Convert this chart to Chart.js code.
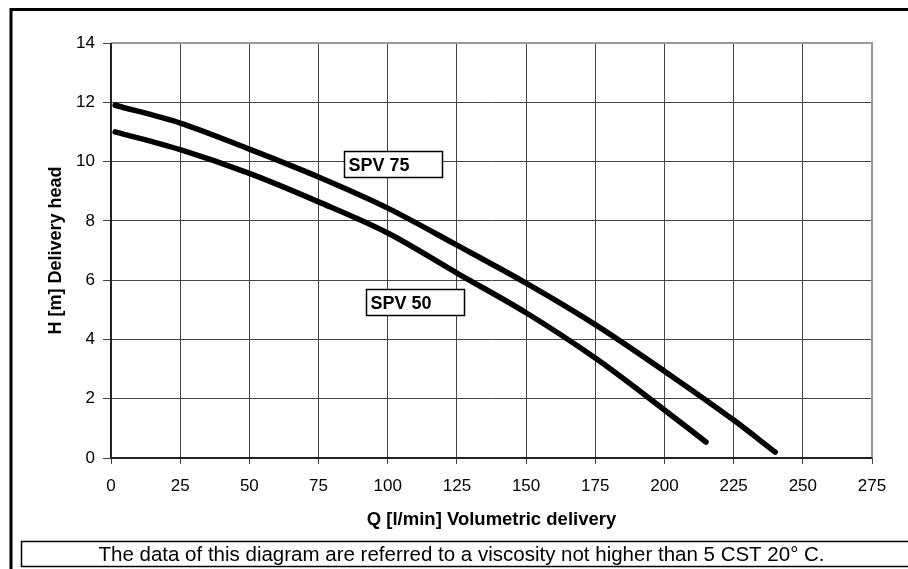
<!DOCTYPE html>
<html>
<head>
<meta charset="utf-8">
<script src="https://cdn.jsdelivr.net/npm/chart.js@4.4.1/dist/chart.umd.min.js"></script>
<style>
  html, body { margin: 0; padding: 0; background: #fff; }
  #wrap { position: relative; width: 908px; height: 569px; }
</style>
</head>
<body>
<div id="wrap"><canvas id="pumpChart" width="908" height="569"></canvas></div>
<script>
// flow rate Q [l/min] and head H [m]
const spv75Q = [1.5, 25, 50, 75, 100, 125, 150, 175, 200, 225, 240];
const spv75H = [11.9, 11.3, 10.42, 9.48, 8.43, 7.18, 5.9, 4.5, 2.93, 1.28, 0.2];
const spv50Q = [1.5, 25, 50, 75, 100, 125, 150, 175, 200, 215];
const spv50H = [11.0, 10.4, 9.6, 8.64, 7.59, 6.24, 4.9, 3.37, 1.62, 0.54];

const xTicks = [0, 25, 50, 75, 100, 125, 150, 175, 200, 225, 250, 275];
const yTicks = [0, 2, 4, 6, 8, 10, 12, 14];

// label boxes (anchored at data coords, top-left corner)
const curveLabels = [
  { text: "SPV 75", x: 84.2, y: 10.36 },
  { text: "SPV 50", x: 92.15, y: 5.70 }
];
const caption = "The data of this diagram are referred to a viscosity not higher than 5 CST 20° C.";

const FONT = "Arial, 'Liberation Sans', sans-serif";

function toPoints(xs, ys) {
  return xs.map((x, i) => ({ x: x, y: ys[i] }));
}

// frame, plot border, labels and caption
const extras = {
  id: "extras",
  afterDraw(chart) {
    const c = chart.ctx;
    const a = chart.chartArea;
    const xs = chart.scales.x, ys = chart.scales.y;
    c.save();
    // grey plot border (top, right)
    c.strokeStyle = "#999";
    c.lineWidth = 2;
    c.beginPath();
    c.moveTo(a.left, a.top);
    c.lineTo(a.right, a.top);
    c.lineTo(a.right, a.bottom);
    c.stroke();
    // axis lines
    c.strokeStyle = "#222";
    c.lineWidth = 2;
    c.beginPath();
    c.moveTo(a.left, a.top);
    c.lineTo(a.left, a.bottom);
    c.lineTo(a.right, a.bottom);
    c.stroke();

    // curve labels
    c.font = "bold 18px " + FONT;
    c.textBaseline = "alphabetic";
    c.textAlign = "left";
    curveLabels.forEach((l) => {
      const px = Math.round(xs.getPixelForValue(l.x)) + 0.5;
      const py = Math.round(ys.getPixelForValue(l.y)) + 0.5;
      c.fillStyle = "#fff";
      c.fillRect(px, py, 98, 26);
      c.strokeStyle = "#000";
      c.lineWidth = 1.5;
      c.strokeRect(px, py, 98, 26);
      c.fillStyle = "#000";
      c.fillText(l.text, px + 4, py + 19);
    });

    // outer frame
    c.strokeStyle = "#000";
    c.lineWidth = 3;
    c.beginPath();
    c.moveTo(11, 569);
    c.lineTo(11, 9.5);
    c.lineTo(908, 9.5);
    c.stroke();

    // caption box
    c.lineWidth = 1.5;
    c.strokeRect(21.5, 541.5, 900, 25);
    c.font = "20.5px " + FONT;
    c.textAlign = "center";
    c.textBaseline = "middle";
    c.fillStyle = "#000";
    c.fillText(caption, 461.5, 555);
    c.restore();
  }
};

const ctx = document.getElementById("pumpChart");
new Chart(ctx, {
  type: "line",
  data: {
    datasets: [
      {
        label: "SPV 75",
        data: toPoints(spv75Q, spv75H),
        borderColor: "#000",
        borderWidth: 5.5,
        pointRadius: 0,
        cubicInterpolationMode: "monotone",
        borderCapStyle: "round",
        fill: false
      },
      {
        label: "SPV 50",
        data: toPoints(spv50Q, spv50H),
        borderColor: "#000",
        borderWidth: 5.5,
        pointRadius: 0,
        cubicInterpolationMode: "monotone",
        borderCapStyle: "round",
        fill: false
      }
    ]
  },
  plugins: [extras],
  options: {
    responsive: false,
    animation: false,
    devicePixelRatio: 1,
    layout: { padding: { top: 43, right: 36, left: 0, bottom: 0 } },
    plugins: {
      legend: { display: false },
      tooltip: { enabled: false }
    },
    scales: {
      x: {
        type: "linear",
        min: 0,
        max: 275,
        afterBuildTicks: (s) => { s.ticks = xTicks.map((v) => ({ value: v })); },
        afterFit: (s) => { s.height = 111; },
        grid: { color: "#444", lineWidth: 1, tickLength: 6, drawTicks: true },
        border: { display: false },
        ticks: {
          color: "#000",
          padding: 12,
          maxRotation: 0,
          font: { family: FONT, size: 17 }
        },
        title: {
          display: true,
          text: "Q [l/min] Volumetric delivery",
          color: "#000",
          padding: { top: 0, bottom: 38 },
          font: { family: FONT, size: 18.5, weight: "bold" }
        }
      },
      y: {
        type: "linear",
        min: 0,
        max: 14,
        afterBuildTicks: (s) => { s.ticks = yTicks.map((v) => ({ value: v })); },
        afterFit: (s) => { s.width = 111; },
        grid: { color: "#444", lineWidth: 1, tickLength: 8, drawTicks: true },
        border: { display: false },
        ticks: {
          color: "#000",
          padding: 8,
          font: { family: FONT, size: 17 }
        },
        title: {
          display: true,
          text: "H [m] Delivery head",
          color: "#000",
          padding: { bottom: 0, top: 45 },
          font: { family: FONT, size: 18, weight: "bold" }
        }
      }
    }
  }
});
</script>
</body>
</html>
